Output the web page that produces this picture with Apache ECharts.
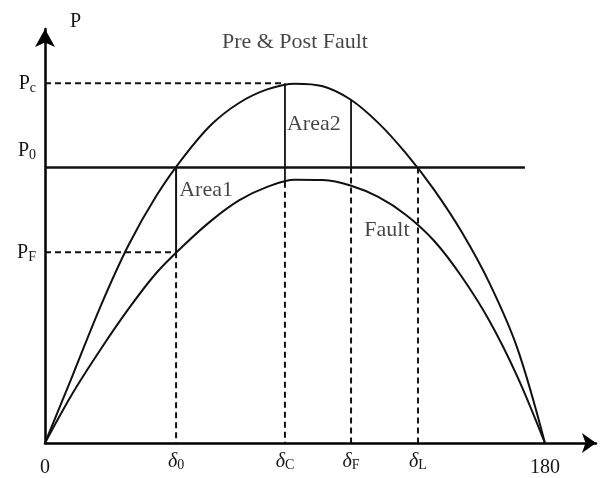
<!DOCTYPE html>
<html>
<head>
<meta charset="utf-8">
<script src="https://cdn.jsdelivr.net/npm/echarts@6/dist/echarts.min.js"></script>
<style>
  html, body { margin: 0; padding: 0; background: #fff; }
  #chart { width: 603px; height: 478px; }
</style>
</head>
<body>
<div id="chart"></div>
<script>
// Power-angle curves: rotor angle in degrees, electrical power in % of Pc
const angleSteps = [0, 10, 20, 30, 40, 50, 60, 70, 80, 90, 100, 110, 120, 130, 140, 150, 160, 170, 180];
const prePostPower = [0, 18.9, 38.0, 54.9, 68.6, 79.6, 88.6, 94.6, 98.3, 99.9, 99.2, 95.5, 89.0, 80.5, 70.5, 58.7, 44.5, 26.5, 0];
const faultPower = [0, 13.9, 26.0, 37.2, 47.2, 55.0, 61.9, 67.5, 71.2, 73.2, 73.1, 71.6, 68.4, 63.4, 56.3, 46.3, 34.0, 18.6, 0];

// Characteristic angles: delta_0, delta_C, delta_F, delta_L
const markDelta = [47.2, 86.4, 110.2, 134.3];
const markDeltaSub = ['0', 'C', 'F', 'L'];
// Characteristic power levels: Pc, P0, PF
const powerLevels = [100, 76.6, 53.0];
const powerSub = ['c', '0', 'F'];
// Curve values where the clearing / fault guides stop
const faultAtClear = 72.6;
const prePostAtF = 95.4;
const inputLineEnd = 172.8;

// Axis end tick labels
const axisEndTicks = [0, 180];

// Text annotations
const noteText = ['Pre & Post Fault', 'Area2', 'Area1', 'Fault'];
const noteDelta = [90, 96.8, 58.0, 123.1];
const notePower = [111.5, 88.7, 70.3, 59.1];

const [d0, dC, dF, dL] = markDelta;
const [Pc, P0, PF] = powerLevels;

const SERIF = 'Liberation Serif';
const INK = '#111';
const TEXT = '#161616';
const DASH = [6, 4];

function pairs(xs, ys) { return xs.map((x, i) => [x, ys[i]]); }

function guide(points, dashed, width) {
  return {
    type: 'line',
    data: points,
    symbol: 'none',
    silent: true,
    z: 2,
    lineStyle: { color: INK, width: width, type: dashed ? DASH : 'solid' }
  };
}

const xTicks = [axisEndTicks[0], ...markDelta, axisEndTicks[1]];

const chart = echarts.init(document.getElementById('chart'), null, { renderer: 'canvas' });
chart.setOption({
  animation: false,
  backgroundColor: '#fff',
  textStyle: { fontFamily: SERIF, color: TEXT },
  grid: { left: 45, right: 7, top: 29, bottom: 30, containLabel: false },
  xAxis: {
    type: 'value',
    min: 0,
    max: 198.4,
    splitLine: { show: false },
    axisTick: { show: false },
    axisLine: {
      onZero: false,
      symbol: ['none', 'arrow'],
      symbolSize: [15, 14],
      lineStyle: { color: '#000', width: 2.5 }
    },
    axisLabel: {
      customValues: xTicks,
      margin: 25,
      verticalAlign: 'middle',
      color: TEXT,
      fontFamily: SERIF,
      formatter: function (v) {
        const i = markDelta.indexOf(v);
        if (i >= 0) return '{d|δ}{s|' + markDeltaSub[i] + '}';
        return '{n|' + v + '}';
      },
      rich: {
        n: { fontSize: 20, fontFamily: SERIF, color: TEXT },
        d: { fontSize: 20, fontFamily: SERIF, fontStyle: 'italic', color: TEXT, padding: [0, 0, 12, 0] },
        s: { fontSize: 14, fontFamily: SERIF, color: TEXT, padding: [6, 0, 12, 0] }
      }
    }
  },
  yAxis: {
    type: 'value',
    min: 0,
    max: 115.1,
    name: 'P',
    nameLocation: 'end',
    nameGap: -3,
    nameTextStyle: {
      fontSize: 20, fontFamily: SERIF, color: TEXT,
      align: 'left', verticalAlign: 'bottom', padding: [0, 0, 0, 25]
    },
    splitLine: { show: false },
    axisTick: { show: false },
    axisLine: {
      onZero: false,
      symbol: ['none', 'arrow'],
      symbolSize: [15, 18],
      lineStyle: { color: '#000', width: 2.5 }
    },
    axisLabel: {
      customValues: powerLevels,
      margin: 9,
      color: TEXT,
      fontFamily: SERIF,
      formatter: function (v) {
        const i = powerLevels.indexOf(v);
        if (i < 0) return '';
        // P0 sits above its line
        if (v === P0) return '{p0|P}{s0|' + powerSub[i] + '}';
        return '{p|P}{s|' + powerSub[i] + '}';
      },
      rich: {
        p: { fontSize: 20, fontFamily: SERIF, color: TEXT },
        s: { fontSize: 14, fontFamily: SERIF, color: TEXT, padding: [10, 0, 0, 0] },
        p0: { fontSize: 20, fontFamily: SERIF, color: TEXT, padding: [0, 0, 34, 0] },
        s0: { fontSize: 14, fontFamily: SERIF, color: TEXT, padding: [8, 0, 32, 0] }
      }
    }
  },
  series: [
    // mechanical input level P0
    guide([[0, P0], [inputLineEnd, P0]], false, 2.5),
    // Pc and PF reference levels
    guide([[0, Pc], [dC, Pc]], true, 2),
    guide([[0, PF], [d0, PF]], true, 2),
    // delta_0
    guide([[d0, P0], [d0, PF]], false, 2),
    guide([[d0, PF], [d0, 0]], true, 2),
    // delta_C
    guide([[dC, Pc], [dC, faultAtClear]], false, 1.8),
    guide([[dC, faultAtClear], [dC, 0]], true, 2),
    // delta_F
    guide([[dF, prePostAtF], [dF, P0]], false, 1.8),
    guide([[dF, P0], [dF, 0]], true, 2),
    // delta_L
    guide([[dL, P0], [dL, 0]], true, 2),
    {
      name: 'Pre & Post Fault',
      type: 'line',
      data: pairs(angleSteps, prePostPower),
      smooth: 0.35,
      symbol: 'none',
      z: 3,
      lineStyle: { color: INK, width: 2 }
    },
    {
      name: 'Fault',
      type: 'line',
      data: pairs(angleSteps, faultPower),
      smooth: 0.35,
      symbol: 'none',
      z: 3,
      lineStyle: { color: INK, width: 2 }
    },
    {
      type: 'scatter',
      silent: true,
      symbolSize: 1,
      itemStyle: { color: 'rgba(0,0,0,0)' },
      data: noteText.map((t, i) => ({ name: t, value: [noteDelta[i], notePower[i]] })),
      label: {
        show: true,
        position: 'inside',
        align: 'center',
        verticalAlign: 'middle',
        formatter: p => p.name,
        fontSize: 22,
        fontFamily: SERIF,
        color: TEXT
      },
      z: 5
    }
  ]
});
</script>
</body>
</html>
